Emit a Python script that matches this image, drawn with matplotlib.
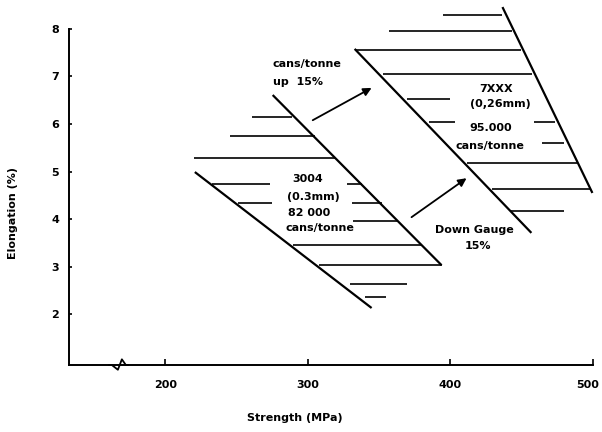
import matplotlib
matplotlib.use('Agg')
import matplotlib.pyplot as plt
from matplotlib.transforms import blended_transform_factory, ScaledTranslation

# boundary lines of the two hatched bands (strength MPa, elongation %)
al3004_lower_x = [220.7, 344.7]
al3004_lower_y = [4.99, 2.13]
al3004_upper_x = [275.3, 393.8]
al3004_upper_y = [6.61, 3.03]

al7xxx_lower_x = [332.8, 456.8]
al7xxx_lower_y = [7.58, 3.71]
al7xxx_upper_x = [436.5, 499.6]
al7xxx_upper_y = [8.46, 4.55]

# hatch strokes: level, start, end
hatch_3004_y = [6.15, 5.75, 5.28, 4.74, 4.74, 4.34, 4.34, 3.96, 3.45, 3.03, 2.63, 2.36]
hatch_3004_x0 = [260.6, 245.2, 220.0, 232.6, 327.2, 250.8, 330.7, 331.4, 289.4, 307.6, 329.3, 339.8]
hatch_3004_x1 = [288.7, 304.8, 318.8, 273.2, 337.7, 274.6, 351.7, 362.9, 379.8, 393.8, 369.2, 354.5]

hatch_7xxx_y = [8.29, 7.96, 7.56, 7.05, 6.53, 6.04, 6.04, 5.60, 5.18, 4.63, 4.17]
hatch_7xxx_x0 = [394.5, 356.6, 332.8, 352.4, 369.2, 385.3, 458.9, 464.5, 411.3, 429.5, 442.8]
hatch_7xxx_x1 = [436.5, 443.5, 449.8, 457.5, 399.4, 402.9, 473.6, 480.0, 489.1, 498.9, 480.0]

# arrows (from, to)
arrow_up = [(303.4, 6.08), (344.7, 6.76)]
arrow_down = [(372.7, 4.04), (411.3, 4.86)]

x_ticks = [200, 300, 400, 500]
y_ticks = [2, 3, 4, 5, 6, 7, 8]

fig = plt.figure(figsize=(6.02, 4.32), dpi=100)
ax = fig.add_axes([0.1146, 0.155, 0.8704, 0.778])
ax.set_xlim(132.4, 500)
ax.set_ylim(0.93, 8)

for s in ['top', 'right']:
    ax.spines[s].set_visible(False)
for s in ['left', 'bottom']:
    ax.spines[s].set_linewidth(1.4)

ax.set_xticks(x_ticks)
ax.set_yticks(y_ticks)
ax.tick_params(axis='x', direction='in', length=4, width=1.2, pad=11, labelsize=8)
ax.tick_params(axis='y', direction='in', length=2.5, width=1.2, pad=7, labelsize=8)
for lab in ax.get_xticklabels() + ax.get_yticklabels():
    lab.set_fontweight('bold')
# last strength label sits against the right edge
last = ax.get_xticklabels()[-1]
last.set_transform(last.get_transform() + ScaledTranslation(-4 / 72, 0, fig.dpi_scale_trans))

# axis break on strength axis
trans = blended_transform_factory(ax.transData, ax.transAxes)
ax.plot([160.5, 162.5, 166.7, 169.5, 172.3, 174.0], [0, 0, -0.014, 0.017, 0, 0],
        color='black', lw=1.3, transform=trans, clip_on=False)

line_kw = dict(color='black', lw=1.6, solid_capstyle='butt', clip_on=False)
ax.plot(al3004_lower_x, al3004_lower_y, **line_kw)
ax.plot(al3004_upper_x, al3004_upper_y, **line_kw)
ax.plot(al7xxx_lower_x, al7xxx_lower_y, **line_kw)
ax.plot(al7xxx_upper_x, al7xxx_upper_y, **line_kw)

ax.hlines(hatch_3004_y, hatch_3004_x0, hatch_3004_x1, color='black', lw=1.2, clip_on=False)
ax.hlines(hatch_7xxx_y, hatch_7xxx_x0, hatch_7xxx_x1, color='black', lw=1.2, clip_on=False)

for a in [arrow_up, arrow_down]:
    ax.annotate('', xy=a[1], xytext=a[0],
                arrowprops=dict(arrowstyle='-|>', color='black', lw=1.3,
                                mutation_scale=12, shrinkA=0, shrinkB=0))

txt = dict(fontsize=8, fontweight='bold', va='center')
ax.text(275.3, 7.26, 'cans/tonne', ha='left', **txt)
ax.text(275.3, 6.88, 'up  15%', ha='left', **txt)

ax.text(299.9, 4.84, '3004', ha='center', **txt)
ax.text(304.1, 4.46, '(0.3mm)', ha='center', **txt)
ax.text(300.6, 4.13, '82 000', ha='center', **txt)
ax.text(308.3, 3.81, 'cans/tonne', ha='center', **txt)

ax.text(432.3, 6.74, '7XXX', ha='center', **txt)
ax.text(435.1, 6.42, '(0,26mm)', ha='center', **txt)
ax.text(428.1, 5.92, '95.000', ha='center', **txt)
ax.text(427.4, 5.54, 'cans/tonne', ha='center', **txt)

ax.text(416.9, 3.77, 'Down Gauge', ha='center', **txt)
ax.text(419.0, 3.43, '15%', ha='center', **txt)

fig.text(0.022, 0.507, 'Elongation (%)', rotation=90, ha='center', va='center',
         fontsize=8, fontweight='bold')
fig.text(0.49, 0.032, 'Strength (MPa)', ha='center', va='center',
         fontsize=8, fontweight='bold')

fig.savefig('out.png', dpi=100)
